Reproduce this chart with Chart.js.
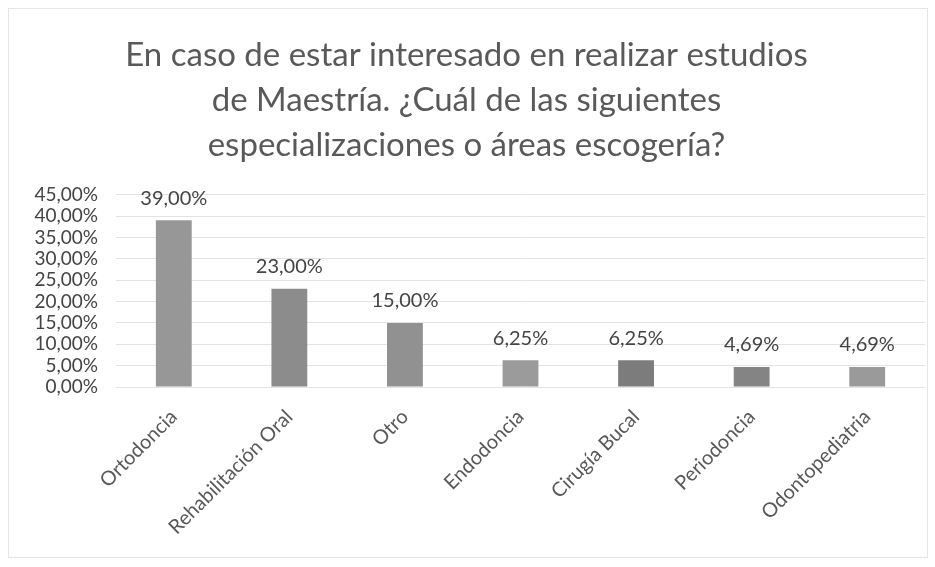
<!DOCTYPE html>
<html>
<head>
<meta charset="utf-8">
<script src="https://cdn.jsdelivr.net/npm/chart.js@4"></script>
<style>
  html, body { margin: 0; padding: 0; background: #fff; }
  #wrap { width: 935px; height: 567px; position: relative; }
  #frame { position: absolute; left: 8px; top: 8px; width: 918px; height: 548px; border: 1px solid #e6e6e6; pointer-events: none; }
</style>
</head>
<body>
<div id="wrap">
  <canvas id="myChart" width="935" height="567"></canvas>
  <div id="frame"></div>
</div>
<script>
let areas = ['Ortodoncia', 'Rehabilitación Oral', 'Otro', 'Endodoncia', 'Cirugía Bucal', 'Periodoncia', 'Odontopediatria'];
let porcentajes = [0.39, 0.23, 0.15, 0.0625, 0.0625, 0.0469, 0.0469];
let colores = ['#979797', '#8c8c8c', '#919191', '#9b9b9b', '#7c7c7c', '#848484', '#9a9a9a'];
let titulo = [
  'En caso de estar interesado en realizar estudios',
  'de Maestría. ¿Cuál de las siguientes',
  'especializaciones o áreas escogería?'
];

function pct(v) {
  return (v * 100).toFixed(2).replace('.', ',') + '%';
}

// value labels above each bar
let etiquetas = {
  id: 'etiquetas',
  afterDatasetsDraw(chart) {
    let ctx = chart.ctx;
    let meta = chart.getDatasetMeta(0);
    ctx.save();
    ctx.font = '20px Lato';
    ctx.fillStyle = '#444';
    ctx.textAlign = 'center';
    ctx.textBaseline = 'bottom';
    meta.data.forEach(function (bar, i) {
      ctx.fillText(pct(porcentajes[i]), bar.x, bar.y - 12);
    });
    ctx.restore();
  }
};

let ctx = document.getElementById('myChart').getContext('2d');
let chart = new Chart(ctx, {
  type: 'bar',
  data: {
    labels: areas,
    datasets: [
      {
        data: porcentajes,
        backgroundColor: colores,
        barPercentage: 0.62,
        categoryPercentage: 0.5,
      },
    ],
  },
  options: {
    responsive: false,
    animation: false,
    layout: { padding: { left: 8, right: 10, top: 10, bottom: 10 } },
    plugins: {
      legend: { display: false },
      tooltip: { enabled: false },
      title: {
        display: true,
        text: titulo,
        color: '#595959',
        font: { family: 'Lato', size: 33, weight: 'normal', lineHeight: 1.36 },
        padding: { top: 23, bottom: 27 },
      },
    },
    scales: {
      x: {
        grid: { display: false },
        border: { display: false },
        ticks: {
          color: '#595959',
          font: { family: 'Lato', size: 20 },
          minRotation: 45,
          maxRotation: 45,
          autoSkip: false,
          padding: 10,
        },
        afterFit(scale) { scale.height = 170; },
      },
      y: {
        min: 0,
        max: 0.45,
        border: { display: false },
        grid: { color: '#e3e3e3', drawTicks: false },
        ticks: {
          stepSize: 0.05,
          autoSkip: false,
          color: '#444',
          font: { family: 'Lato', size: 19 },
          padding: 18,
          callback: function (v) { return pct(v); },
        },
        afterFit(scale) { scale.width = 108; },
      },
    },
  },
  plugins: [etiquetas],
});
</script>
</body>
</html>
